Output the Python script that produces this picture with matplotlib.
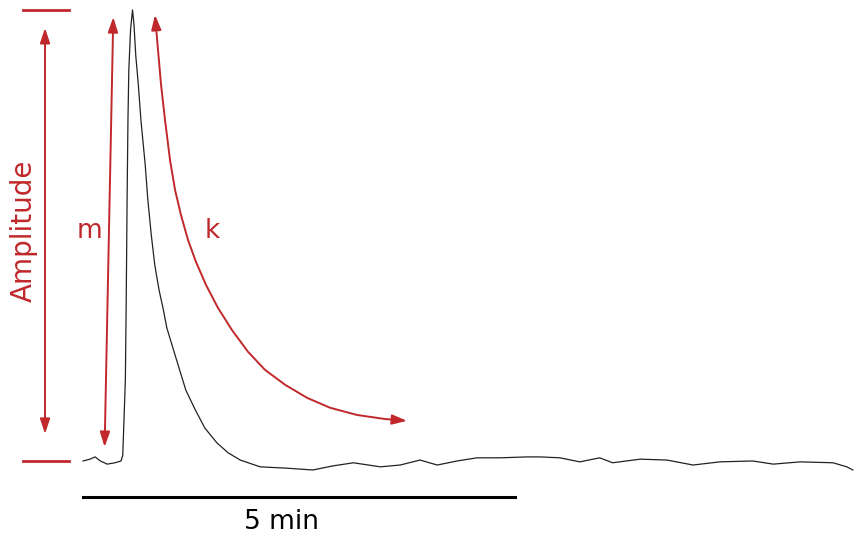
import matplotlib
matplotlib.use("Agg")
import matplotlib.pyplot as plt
from matplotlib.patches import FancyArrowPatch
from matplotlib.path import Path

# Recorded trace: time (min) and response (% of peak amplitude)
time_min = [0.00, 0.08, 0.14, 0.20, 0.28, 0.37, 0.44, 0.46, 0.47, 0.49, 0.50,
            0.51, 0.52, 0.53, 0.55, 0.573, 0.59, 0.61, 0.64, 0.67, 0.72, 0.75,
            0.79, 0.83, 0.88, 0.93, 0.97, 1.03, 1.10, 1.19, 1.30, 1.41, 1.55,
            1.68, 1.82, 2.05, 2.36, 2.66, 2.89, 3.13, 3.44, 3.67, 3.90, 4.10,
            4.33, 4.56, 4.83, 5.14, 5.29, 5.52, 5.75, 5.98, 6.13, 6.45, 6.76,
            7.06, 7.37, 7.75, 7.99, 8.30, 8.68, 8.84, 8.91]
response = [0.0, 0.4, 0.9, 0.0, -0.7, -0.4, 0.0, 1.3, 6.9, 18.0, 35.7,
            57.9, 75.6, 86.7, 95.6, 100.0, 96.7, 90.0, 83.4, 75.6, 65.6, 57.9,
            50.1, 43.5, 37.9, 33.5, 29.5, 25.7, 21.3, 15.7, 11.3, 7.3, 4.0,
            1.8, 0.2, -1.3, -1.6, -2.0, -1.1, -0.4, -1.3, -0.9, 0.2, -0.9,
            0.0, 0.7, 0.7, 0.9, 0.9, 0.7, -0.2, 0.7, -0.4, 0.4, 0.2,
            -0.9, -0.2, 0.0, -0.7, -0.2, -0.4, -1.3, -2.0]

# decay guide curve (k)
k_time = [0.833, 0.868, 0.903, 0.949, 1.007, 1.065, 1.134, 1.215, 1.308,
          1.424, 1.563, 1.725, 1.910, 2.106, 2.338, 2.593, 2.859, 3.171,
          3.495, 3.750]
k_resp = [98.9, 91.1, 83.4, 75.6, 66.7, 60.1, 54.5, 49.0, 44.1,
          39.0, 33.9, 29.0, 24.2, 20.2, 16.9, 14.0, 11.8, 10.2,
          9.3, 8.9]

scale_bar = [0, 5]
scale_label = "5 min"
red = "#c0282b"

fig = plt.figure(figsize=(8.57, 5.39), dpi=100)
ax = fig.add_axes([0, 0, 1, 1])
ax.set_xlim(-0.961, 8.958)
ax.set_ylim(-17.3, 102.2)
ax.axis("off")

ax.plot(time_min, response, color="#222222", lw=0.9)

# amplitude markers
for level in (100, 0):
    ax.plot([-0.69, -0.16], [level, level], color=red, lw=2)

arrow_kw = dict(arrowstyle="<|-|>,head_length=0.9,head_width=0.3",
                color=red, lw=1.4, mutation_scale=10, shrinkA=0, shrinkB=0)
ax.annotate("", xy=(-0.44, 96), xytext=(-0.44, 6), arrowprops=arrow_kw)
ax.annotate("", xy=(0.35, 98.4), xytext=(0.25, 3.1), arrowprops=arrow_kw)

k_arrow = FancyArrowPatch(path=Path(list(zip(k_time, k_resp))),
                          arrowstyle="<|-|>,head_length=0.9,head_width=0.3",
                          color=red, lw=1.4, mutation_scale=10)
ax.add_patch(k_arrow)

ax.text(-0.69, 51, "Amplitude", color=red, fontsize=20, rotation=90,
        ha="center", va="center")
ax.text(0.08, 51, "m", color=red, fontsize=19, ha="center", va="center")
ax.text(1.49, 51, "k", color=red, fontsize=19, ha="center", va="center")

# time scale bar
ax.plot(scale_bar, [-8, -8], color="black", lw=2.2)
ax.text(2.30, -13.5, scale_label, fontsize=19, ha="center", va="center")

fig.savefig("out.png", dpi=100)
